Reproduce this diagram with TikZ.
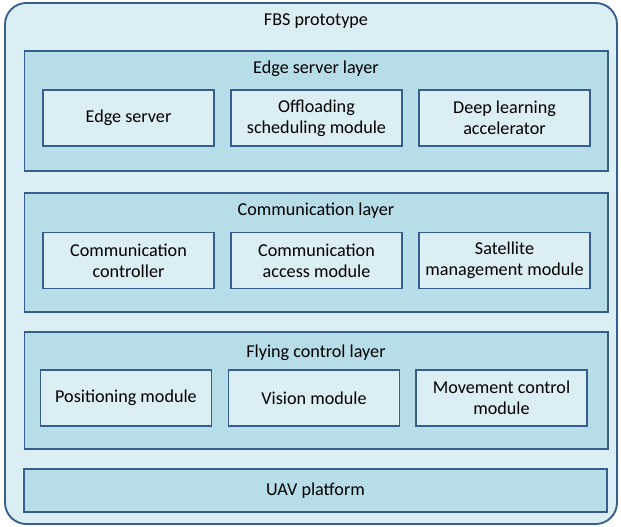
\documentclass[tikz,border=0pt]{standalone}
\usepackage{fontspec}
\setmainfont{Carlito}
\definecolor{lightfill}{HTML}{DBEEF4}
\definecolor{layerfill}{HTML}{B7DDE8}
\definecolor{edgecol}{HTML}{365F8E}
\begin{document}
\begin{tikzpicture}[x=0.75pt,y=-0.75pt,
  txtfont/.style={font=\fontsize{13.6}{16}\selectfont},
  outerbox/.style={draw=edgecol, fill=lightfill, line width=1.4pt, rounded corners=16pt, inner sep=0pt},
  layerbox/.style={draw=edgecol, fill=layerfill, line width=1.4pt, inner sep=0pt, txtfont},
  modbox/.style={draw=edgecol, fill=lightfill, line width=1.4pt, inner sep=0pt, align=center,
    minimum width=128.25pt, minimum height=42pt, txtfont},
  title/.style={anchor=base, inner sep=0pt, txtfont}]
\useasboundingbox (0,0) rectangle (621,527);
\node[outerbox, minimum width=459pt, minimum height=390.75pt] (fbs) at (311,263.5) {};
\node[title] (fbst) at (316,26) {FBS prototype};
% Edge server layer
\node[layerbox, minimum width=437.6pt, minimum height=90pt] (esl) at (316.25,111) {};
\node[title] (eslt) at (316,74) {Edge server layer};
\node[modbox] (es) at (128.5,118) {Edge server};
\node[modbox] (osm) at (316.5,118) {Offloading\\scheduling module};
\node[modbox] (dla) at (504.5,118) {Deep learning\\accelerator};
% Communication layer
\node[layerbox, minimum width=437.6pt, minimum height=89.25pt] (cl) at (316.25,252.5) {};
\node[title] (clt) at (316,216) {Communication layer};
\node[modbox] (cc) at (128.5,260.5) {Communication\\controller};
\node[modbox] (cam) at (316.5,260.5) {Communication\\access module};
\node[modbox] (smm) at (504.5,260.5) {Satellite\\management module};
% Flying control layer
\node[layerbox, minimum width=437.6pt, minimum height=87.75pt] (fcl) at (316.25,390.5) {};
\node[title] (fclt) at (316,357) {Flying control layer};
\node[modbox] (pm) at (126,398) {Positioning module};
\node[modbox] (vm) at (314,398) {Vision module};
\node[modbox] (mcm) at (501.5,398) {Movement control\\module};
% UAV platform
\node[layerbox, minimum width=437.25pt, minimum height=32.25pt] (uav) at (315.5,490.5) {UAV platform};
\end{tikzpicture}
\end{document}
